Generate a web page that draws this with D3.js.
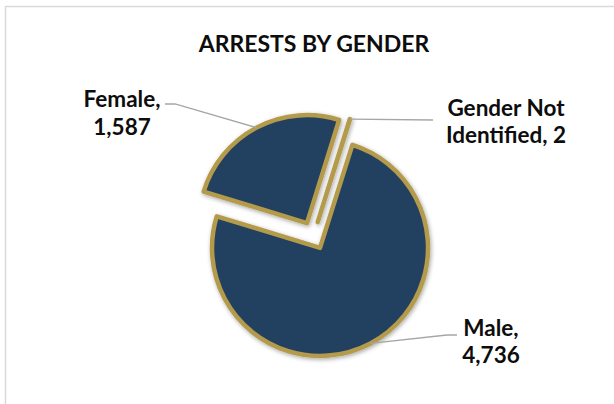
<!DOCTYPE html>
<html><head><meta charset="utf-8">
<script src="https://cdn.jsdelivr.net/npm/d3@7"></script>
<style>
body{margin:0;background:#fff}
svg{display:block}
text{font-family:Lato,"Open Sans",sans-serif;font-weight:700;fill:#0d0d0d}
</style>
</head><body>
<svg id="chart" width="614" height="404"></svg>
<script>
// ---- data ----
const title = "ARRESTS BY GENDER";
const categories = ["Female", "Gender Not Identified", "Male"];
const values = [1587, 2, 4736];

// ---- layout ----
const W = 614, H = 404;
const cx = 313.5, cy = 235.5, R = 108, explode = 14;
const firstSliceDeg = 287;
const labelPos = [
  {x: 122, y: 107, wrap: 100, elbow: [[175,104],[165,104]]},
  {x: 506, y: 115.5, wrap: 127, elbow: [[433,120]]},
  {x: 491, y: 335.5, wrap: 90, elbow: [[447,335],[457,335]]}
];
const lineH = 27.5;
const labelFont = 22.5;

const svg = d3.select("#chart");
const defs = svg.append("defs");
const f = defs.append("filter").attr("id","sh").attr("x","-20%").attr("y","-20%").attr("width","140%").attr("height","140%");
f.append("feDropShadow").attr("dx",1).attr("dy",1.5).attr("stdDeviation",2.2)
  .attr("flood-color","#000").attr("flood-opacity",0.35);

// chart border
svg.append("rect").attr("x",5.5).attr("y",6.5).attr("width",W).attr("height",H)
  .attr("fill","none").attr("stroke","#d9d9d9").attr("stroke-width",1.5);

svg.append("text").attr("x",314).attr("y",51.5).attr("text-anchor","middle")
  .style("font-size","23px").text(title);

const data = categories.map((c,i)=>({cat:c, value:values[i]}));
const s0 = firstSliceDeg*Math.PI/180;
const pie = d3.pie().value(d=>d.value).sort(null).startAngle(s0).endAngle(s0+2*Math.PI);
const arcs = pie(data);
const arc = d3.arc().innerRadius(0).outerRadius(R);

const g = svg.append("g").attr("transform",`translate(${cx},${cy})`);
arcs.forEach(a=>{
  const mid = (a.startAngle+a.endAngle)/2;
  a.ox = Math.sin(mid)*explode; a.oy = -Math.cos(mid)*explode;
  a.px = cx + a.ox + Math.sin(mid)*R; a.py = cy + a.oy - Math.cos(mid)*R;
});
g.selectAll("path.slice").data(arcs).join("path").attr("class","slice")
  .attr("transform",d=>`translate(${d.ox},${d.oy})`)
  .attr("d",arc)
  .attr("fill","#243f60").attr("stroke","#b39b4b").attr("stroke-width",4.5)
  .attr("stroke-linejoin","round")
  .attr("filter","url(#sh)");

// leader lines
const fmt = d3.format(",");
arcs.forEach((a,i)=>{
  const pts = [[a.px,a.py], ...labelPos[i].elbow];
  svg.append("path").attr("d", d3.line()(pts)).attr("fill","none")
    .attr("stroke","#a6a6a6").attr("stroke-width",1.3);
});

// labels with word wrap
arcs.forEach((a,i)=>{
  const maxW = labelPos[i].wrap;
  const words = `${a.data.cat}, ${fmt(a.data.value)}`.split(" ");
  const t = svg.append("text").attr("text-anchor","middle").style("font-size",labelFont+"px");
  const lines = [];
  let cur = [];
  const probe = t.append("tspan");
  words.forEach(w=>{
    const test = cur.concat(w).join(" ");
    probe.text(test);
    if (cur.length && probe.node().getComputedTextLength() > maxW) { lines.push(cur.join(" ")); cur=[w]; }
    else cur.push(w);
  });
  lines.push(cur.join(" "));
  probe.remove();
  lines.forEach((ln,k)=>{
    t.append("tspan").attr("x",labelPos[i].x).attr("y",labelPos[i].y + k*lineH).text(ln);
  });
});
</script>
</body></html>
